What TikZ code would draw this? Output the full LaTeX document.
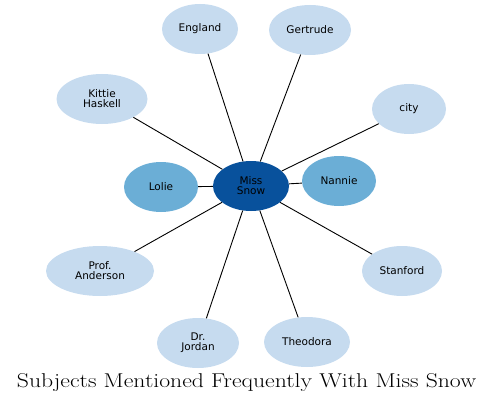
\documentclass[tikz,border=0pt]{standalone}
\usepackage{fontspec}
\usepackage{graphicx}
\newfontfamily\nodefont{DejaVu Sans}
\usetikzlibrary{shapes.geometric}
\definecolor{darkb}{HTML}{08519C}
\definecolor{midb}{HTML}{6BAED6}
\definecolor{lightb}{HTML}{C6DBEF}
\tikzset{
  ent/.style={ellipse, draw=none, inner sep=0pt, minimum height=50pt, align=center,
    font=\nodefont\fontsize{10.5}{12}\selectfont, text=black},
  lightent/.style={ent, fill=lightb},
  mident/.style={ent, fill=midb},
  centent/.style={ent, fill=darkb},
  link/.style={draw=black, line width=0.9pt}
}
\begin{document}
\begin{tikzpicture}[x=1pt,y=-1pt]
\useasboundingbox (0,0) rectangle (493,404);
\node[centent, minimum width=76pt] (snow) at (251,186) {Miss\\[-2pt]Snow};
\node[mident, minimum width=74pt] (lolie) at (161,187) {Lolie};
\node[mident, minimum width=74pt] (nannie) at (339,181) {Nannie};
\node[lightent, minimum width=76pt] (england) at (200,29) {England};
\node[lightent, minimum width=82pt] (gertrude) at (310,30) {Gertrude};
\node[lightent, minimum width=74pt] (city) at (409,109) {city};
\node[lightent, minimum width=91pt] (kittie) at (102,99) {Kittie\\[-2pt]Haskell};
\node[lightent, minimum width=108pt] (anderson) at (100,271) {Prof.\\[-2pt]Anderson};
\node[lightent, minimum width=80pt] (stanford) at (402,271) {Stanford};
\node[lightent, minimum width=82pt] (jordan) at (198,343) {Dr.\\[-2pt]Jordan};
\node[lightent, minimum width=86pt] (theodora) at (307,342) {Theodora};
\foreach \t in {lolie,nannie,england,gertrude,city,kittie,anderson,stanford,jordan,theodora}{
  \draw[link] (snow) -- (\t);
}
\node[font=\fontsize{20}{24}\selectfont, text=black, inner sep=0pt] (title) at (246.5,383) {\scalebox{1.185}[1]{Subjects Mentioned Frequently With Miss Snow}};
\end{tikzpicture}
\end{document}
